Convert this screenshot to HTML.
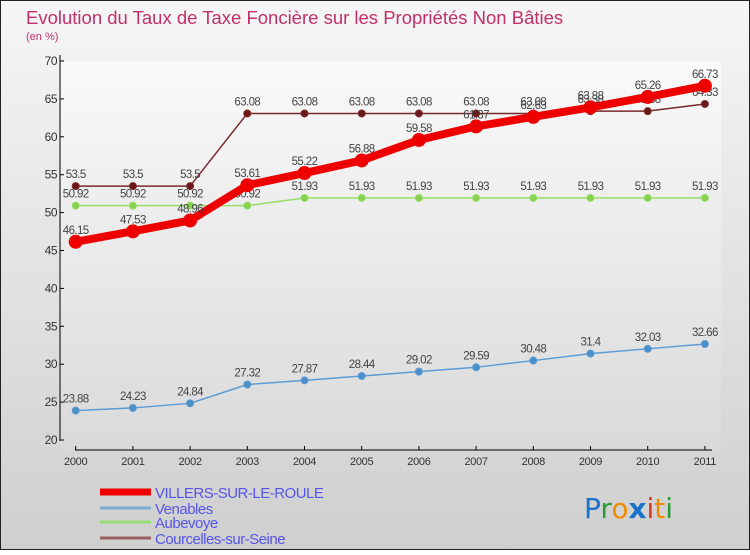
<!DOCTYPE html>
<html><head><meta charset="utf-8"><style>
body{margin:0;width:750px;height:550px;overflow:hidden;font-family:"Liberation Sans",sans-serif}
</style></head><body>
<svg id="chart" width="750" height="550" xmlns="http://www.w3.org/2000/svg">
<defs>
<linearGradient id="bg" x1="0" y1="0" x2="0" y2="1"><stop offset="0" stop-color="#f6f6f6"/><stop offset="1" stop-color="#cfcfcf"/></linearGradient>
<linearGradient id="pbg" x1="0" y1="0" x2="0" y2="1"><stop offset="0" stop-color="#ffffff"/><stop offset="1" stop-color="#dcdcdc"/></linearGradient>
</defs>
<rect x="0.5" y="0.5" width="749" height="549" fill="url(#bg)" stroke="#222"/>
<rect x="61" y="61" width="660" height="389" fill="url(#pbg)" opacity="0.6"/>
<text x="26" y="24" font-size="18.5" fill="#c0306a">Evolution du Taux de Taxe Foncière sur les Propriétés Non Bâties</text>
<text x="26" y="40" font-size="11" fill="#c0306a">(en %)</text>
<g id="axes"></g><g id="series"></g><g id="legend"></g>
<text x="584" y="518" font-size="28" font-family="DejaVu Sans, sans-serif"><tspan fill="#1a73c8">P</tspan><tspan fill="#2a9a3a">r</tspan><tspan fill="#f08a00">o</tspan><tspan fill="#1a73c8" font-weight="bold">x</tspan><tspan fill="#e0301e">i</tspan><tspan fill="#f08a00">t</tspan><tspan fill="#2a9a3a">i</tspan></text>
</svg>
<script>
const years=["2000","2001","2002","2003","2004","2005","2006","2007","2008","2009","2010","2011"];
const yTicks=[20,25,30,35,40,45,50,55,60,65,70];
const villers=[46.15,47.53,48.96,53.61,55.22,56.88,59.58,61.37,62.63,63.88,65.26,66.73];
const venables=[23.88,24.23,24.84,27.32,27.87,28.44,29.02,29.59,30.48,31.4,32.03,32.66];
const aubevoye=[50.92,50.92,50.92,50.92,51.93,51.93,51.93,51.93,51.93,51.93,51.93,51.93];
const courcelles=[53.5,53.5,53.5,63.08,63.08,63.08,63.08,63.08,63.08,63.38,63.38,64.33];
const NS="http://www.w3.org/2000/svg";
const xS=i=>75.7+i*57.2;
const yS=v=>440-(v-20)*7.58;
function mk(tag,attrs,parent){const e=document.createElementNS(NS,tag);for(const k in attrs)e.setAttribute(k,attrs[k]);parent.appendChild(e);return e;}
const ax=document.getElementById('axes');
let l=mk('line',{x1:60,y1:55,x2:60,y2:441,stroke:'#000'},ax);


l=mk('line',{x1:75,y1:450,x2:712,y2:450,stroke:'#000'},ax);


yTicks.forEach(v=>{
 mk('line',{x1:60,x2:64,y1:yS(v),y2:yS(v),stroke:'#000'},ax);
 const t=mk('text',{x:57,y:yS(v)+4,'font-size':12,'text-anchor':'end',fill:'#333','letter-spacing':'-0.5'},ax);t.textContent=v;
 
 
});
years.forEach((y,i)=>{
 mk('line',{x1:xS(i),x2:xS(i),y1:446,y2:450,stroke:'#000'},ax);
 const t=mk('text',{x:xS(i),y:465,'font-size':11,'text-anchor':'middle',fill:'#333','letter-spacing':'-0.3'},ax);t.textContent=y;
 
 
});
const sg=document.getElementById('series');
function series(data,color,w,r,name,dot){
 const g=mk('g',{},sg);
 
 
 mk('polyline',{points:data.map((v,i)=>xS(i)+','+yS(v)).join(' '),fill:'none',stroke:color,'stroke-width':w,'stroke-linejoin':'round'},g);
 data.forEach((v,i)=>{
  const c=mk('circle',{cx:xS(i),cy:yS(v),r:r,fill:dot,stroke:color,'stroke-width':1},g);
  
  
  const t=mk('text',{x:xS(i),y:yS(v)-8,'font-size':11.5,'text-anchor':'middle',fill:'#444','letter-spacing':'-0.6'},g);t.textContent=v;
 });
}
series(venables,'#5b9bd5',1.5,3.5,'venables-series','#4a90c8');
series(aubevoye,'#99dd66',1.5,3.5,'aubevoye-series','#88d050');
series(courcelles,'#7a2a2a',1.5,3.5,'courcelles-series','#6a1a1a');
series(villers,'#ee0000',8,6.5,'villers-series','#ee0000');
const lg=document.getElementById('legend');
const items=[["VILLERS-SUR-LE-ROULE","#ee0000",7],["Venables","#7aaccc",3],["Aubevoye","#99dd77",3],["Courcelles-sur-Seine","#9a6060",3]];
items.forEach((it,i)=>{
 const y=[492,508,522,538][i];
 const g=mk('g',{},lg);
 
 
 mk('line',{x1:100,x2:151,y1:y,y2:y,stroke:it[1],'stroke-width':it[2]},g);
 const t=mk('text',{x:155,y:y+6,'font-size':15,fill:'#5555ee','letter-spacing':'-0.5'},g);t.textContent=it[0];
});
</script>
</body></html>
